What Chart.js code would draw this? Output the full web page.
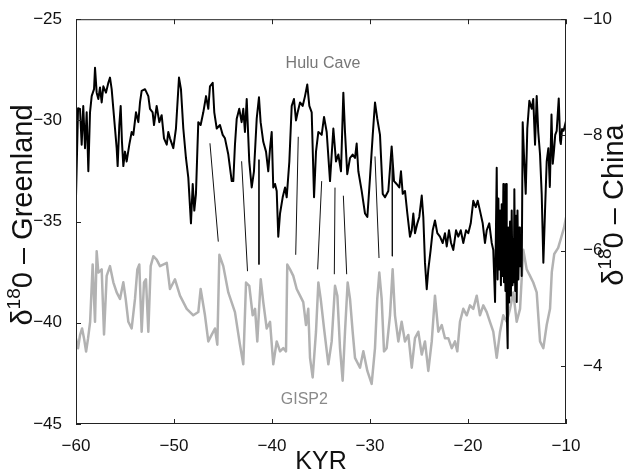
<!DOCTYPE html>
<html>
<head>
<meta charset="utf-8">
<script src="https://cdn.jsdelivr.net/npm/chart.js@4.4.1/dist/chart.umd.min.js"></script>
<style>
  html, body { margin: 0; padding: 0; background: #fff; }
  #wrap { width: 631px; height: 470px; }
</style>
</head>
<body>
<div id="wrap"><canvas id="c"></canvas></div>
<script>
// Hulu Cave speleothem record, [kyr, d18O China] (right axis, reversed)
const hulu = [
  [-60.00,-6.93],[-59.79,-8.46],[-59.59,-8.45],[-59.42,-7.83],[-59.26,-8.50],[-59.08,-7.77],[-58.91,-8.39],
  [-58.74,-7.37],[-58.57,-8.39],[-58.40,-8.67],[-58.16,-8.79],[-58.06,-9.16],[-57.89,-8.73],[-57.72,-8.62],
  [-57.55,-8.82],[-57.38,-8.56],[-57.21,-8.84],[-56.94,-8.73],[-56.70,-8.90],[-56.53,-8.99],[-56.36,-8.79],
  [-56.19,-8.45],[-56.02,-8.11],[-55.85,-7.77],[-55.75,-7.46],[-55.58,-8.17],[-55.44,-8.50],[-55.31,-7.88],
  [-55.17,-7.46],[-55.00,-7.71],[-54.83,-7.54],[-54.56,-7.83],[-54.32,-8.05],[-54.15,-8.00],[-53.88,-8.39],
  [-53.64,-8.22],[-53.47,-8.56],[-53.30,-8.76],[-52.96,-8.79],[-52.62,-8.67],[-52.45,-8.45],[-52.18,-8.39],
  [-52.04,-8.17],[-51.77,-8.50],[-51.50,-8.22],[-51.26,-8.34],[-51.02,-7.94],[-50.74,-7.83],[-50.58,-8.05],
  [-50.41,-7.94],[-50.07,-7.77],[-49.80,-8.11],[-49.49,-8.99],[-49.29,-8.79],[-49.05,-8.11],[-48.78,-7.60],
  [-48.54,-7.26],[-48.27,-6.47],[-48.09,-7.15],[-47.93,-6.69],[-47.76,-6.98],[-47.62,-7.71],[-47.52,-8.22],
  [-47.28,-8.17],[-47.01,-8.39],[-46.73,-8.67],[-46.50,-8.45],[-46.33,-8.84],[-46.05,-8.90],[-45.89,-8.39],
  [-45.64,-8.11],[-45.31,-8.17],[-45.03,-8.00],[-44.80,-7.94],[-44.46,-7.66],[-44.11,-7.20],[-43.95,-7.20],
  [-43.78,-7.83],[-43.60,-8.28],[-43.34,-8.45],[-43.10,-8.22],[-42.93,-8.45],[-42.76,-8.05],[-42.58,-8.62],
  [-42.32,-7.54],[-42.07,-7.09],[-41.84,-7.37],[-41.56,-8.28],[-41.33,-8.65],[-41.16,-8.22],[-40.89,-7.88],
  [-40.61,-7.71],[-40.38,-7.37],[-40.20,-7.77],[-40.03,-8.05],[-39.87,-7.09],[-39.69,-7.15],[-39.52,-7.03],
  [-39.36,-6.24],[-39.18,-6.64],[-38.91,-6.92],[-38.67,-7.09],[-38.50,-6.92],[-38.23,-7.54],[-37.99,-8.50],
  [-37.76,-8.62],[-37.55,-8.25],[-37.38,-8.39],[-37.14,-8.56],[-36.87,-8.50],[-36.63,-8.67],[-36.40,-8.87],
  [-36.19,-8.50],[-35.95,-8.39],[-35.71,-6.92],[-35.51,-7.71],[-35.27,-8.05],[-34.93,-8.00],[-34.69,-8.31],
  [-34.42,-8.05],[-34.08,-7.20],[-33.74,-8.11],[-33.47,-7.54],[-33.23,-7.66],[-32.96,-7.37],[-32.72,-8.73],
  [-32.55,-8.05],[-32.32,-7.32],[-32.04,-7.60],[-31.77,-7.66],[-31.53,-7.60],[-31.36,-7.85],[-31.19,-7.37],
  [-30.85,-7.03],[-30.51,-6.64],[-30.27,-6.58],[-30.00,-7.26],[-29.72,-8.00],[-29.49,-8.56],[-29.26,-8.28],
  [-28.98,-8.00],[-28.70,-6.98],[-28.47,-6.92],[-28.13,-7.03],[-27.79,-7.80],[-27.55,-7.20],[-27.28,-7.15],
  [-27.01,-7.09],[-26.84,-7.37],[-26.66,-6.98],[-26.43,-7.03],[-26.19,-6.64],[-25.92,-6.24],[-25.74,-6.35],
  [-25.58,-6.64],[-25.41,-6.30],[-25.17,-6.47],[-24.97,-6.58],[-24.72,-6.95],[-24.56,-6.58],[-24.39,-5.79],
  [-24.21,-5.33],[-24.05,-5.67],[-23.81,-6.01],[-23.60,-6.35],[-23.37,-6.52],[-23.13,-6.30],[-22.86,-6.24],
  [-22.58,-6.13],[-22.35,-6.30],[-22.17,-6.07],[-21.94,-6.35],[-21.73,-6.13],[-21.50,-6.01],[-21.22,-6.35],
  [-20.99,-6.24],[-20.74,-6.35],[-20.48,-6.13],[-20.20,-6.35],[-19.97,-6.30],[-19.72,-6.47],[-19.46,-6.86],
  [-19.21,-6.75],[-19.01,-6.86],[-18.78,-6.69],[-18.50,-6.47],[-18.27,-6.13],[-18.09,-6.35],[-17.83,-6.47],
  [-17.58,-6.13],[-17.42,-6.01],[-17.24,-5.11],[-17.07,-7.43],[-16.98,-5.50],[-16.90,-6.90],[-16.82,-5.67],
  [-16.73,-6.69],[-16.64,-5.40],[-16.56,-6.80],[-16.48,-5.56],[-16.39,-7.15],[-16.33,-5.45],[-16.25,-6.60],
  [-16.18,-5.30],[-16.12,-7.15],[-16.05,-4.99],[-15.95,-4.31],[-15.90,-6.40],[-15.80,-5.10],[-15.71,-6.50],
  [-15.62,-5.22],[-15.54,-6.69],[-15.46,-5.40],[-15.38,-6.20],[-15.32,-5.45],[-15.27,-7.06],[-15.18,-5.30],
  [-15.10,-6.60],[-15.03,-5.11],[-14.95,-6.69],[-14.86,-5.50],[-14.76,-6.40],[-14.70,-5.73],[-14.60,-6.20],
  [-14.52,-5.56],[-14.42,-8.22],[-14.29,-7.66],[-14.11,-6.98],[-13.95,-8.11],[-13.74,-8.59],[-13.50,-8.45],
  [-13.34,-8.62],[-13.16,-7.83],[-12.99,-8.67],[-12.83,-8.05],[-12.65,-7.66],[-12.48,-6.98],[-12.31,-5.79],
  [-12.14,-6.69],[-11.97,-7.54],[-11.80,-7.77],[-11.65,-7.10],[-11.48,-8.35],[-11.35,-7.50],[-11.23,-7.72],
  [-11.10,-8.00],[-10.95,-8.07],[-10.74,-8.63],[-10.60,-7.90],[-10.53,-7.84],[-10.40,-8.10],[-10.25,-8.07],
  [-10.00,-8.24]
];

// GISP2 ice core, [kyr, d18O Greenland] (left axis)
const gisp2 = [
  [-60.00,-40.77],[-59.79,-41.26],[-59.59,-40.61],[-59.38,-40.28],[-59.18,-40.77],[-58.97,-41.42],[-58.77,-40.77],
  [-58.56,-39.96],[-58.30,-37.12],[-58.06,-39.95],[-57.89,-36.47],[-57.72,-37.52],[-57.38,-37.36],[-57.14,-40.58],
  [-56.87,-37.68],[-56.53,-37.20],[-56.19,-38.00],[-55.85,-38.50],[-55.51,-38.82],[-55.17,-38.00],[-54.93,-38.82],
  [-54.66,-39.95],[-54.32,-40.28],[-53.98,-38.82],[-53.74,-37.36],[-53.54,-37.12],[-53.30,-40.44],[-53.06,-38.00],
  [-52.86,-37.85],[-52.62,-40.44],[-52.38,-37.20],[-52.11,-36.71],[-51.77,-36.88],[-51.43,-37.20],[-50.74,-37.04],
  [-50.41,-38.33],[-49.90,-37.85],[-49.39,-38.66],[-48.70,-39.31],[-48.03,-39.63],[-47.52,-39.47],[-47.28,-38.33],
  [-46.84,-39.63],[-46.50,-40.92],[-46.16,-40.60],[-45.82,-40.28],[-45.58,-41.08],[-45.37,-36.64],[-44.97,-37.20],
  [-44.46,-38.50],[-43.78,-39.47],[-43.27,-41.08],[-42.93,-42.05],[-42.65,-38.01],[-42.32,-38.17],[-41.97,-39.63],
  [-41.73,-39.31],[-41.50,-40.92],[-41.15,-37.85],[-40.89,-38.98],[-40.54,-40.28],[-40.20,-39.95],[-39.87,-42.05],
  [-39.52,-40.92],[-39.18,-41.41],[-38.85,-41.25],[-38.57,-41.41],[-38.44,-37.12],[-38.16,-37.36],[-37.83,-37.68],
  [-37.48,-38.33],[-37.14,-38.66],[-36.81,-38.98],[-36.53,-40.11],[-36.30,-39.31],[-36.12,-41.73],[-35.85,-42.70],
  [-35.51,-40.44],[-35.27,-38.01],[-35.03,-38.82],[-34.69,-40.28],[-34.25,-42.05],[-33.91,-40.92],[-33.57,-38.17],
  [-33.33,-38.66],[-33.06,-41.25],[-32.79,-42.86],[-32.55,-40.44],[-32.28,-38.01],[-32.04,-38.82],[-31.77,-40.44],
  [-31.53,-41.73],[-31.02,-42.22],[-30.68,-41.41],[-30.27,-42.38],[-29.83,-43.02],[-29.49,-41.25],[-29.26,-38.82],
  [-29.05,-37.52],[-28.81,-38.82],[-28.57,-41.41],[-28.30,-41.25],[-27.96,-39.63],[-27.69,-37.36],[-27.45,-39.63],
  [-27.11,-40.92],[-26.77,-39.95],[-26.43,-40.92],[-26.09,-40.60],[-25.74,-42.22],[-25.41,-40.76],[-25.07,-40.44],
  [-24.72,-41.57],[-24.39,-40.92],[-24.05,-42.38],[-23.70,-40.92],[-23.37,-38.66],[-23.03,-40.44],[-22.68,-40.11],
  [-22.35,-40.76],[-22.01,-40.76],[-21.66,-41.25],[-21.33,-40.92],[-21.09,-41.41],[-20.82,-39.95],[-20.48,-39.31],
  [-20.13,-39.63],[-19.80,-39.14],[-19.46,-39.31],[-19.11,-38.66],[-18.78,-39.63],[-18.44,-39.14],[-18.09,-39.47],
  [-17.76,-39.95],[-17.42,-40.44],[-17.07,-41.73],[-16.73,-40.44],[-16.40,-39.63],[-16.05,-39.95],[-15.71,-39.31],
  [-15.38,-38.50],[-15.03,-39.95],[-14.69,-39.31],[-14.36,-36.39],[-14.01,-37.36],[-13.67,-37.68],[-13.34,-38.01],
  [-12.99,-38.50],[-12.65,-40.92],[-12.31,-41.25],[-11.97,-40.11],[-11.63,-39.31],[-11.45,-37.50],[-11.20,-36.60],
  [-10.80,-36.30],[-10.50,-35.80],[-10.20,-35.30],[-10.00,-34.80]
];

// tie lines between the two records: [kyr top, d18O top, kyr bottom, d18O bottom] (left axis)
const ties = [
  [-46.33,-31.13,-45.48,-35.99],
  [-43.10,-32.02,-42.50,-37.45],
  [-41.33,-31.94,-41.33,-37.12],
  [-37.32,-30.81,-37.58,-36.64],
  [-34.93,-33.00,-35.34,-37.36],
  [-33.57,-33.32,-33.64,-37.60],
  [-32.72,-33.72,-32.38,-37.60],
  [-29.49,-31.78,-29.08,-36.80],
  [-27.74,-31.80,-27.72,-36.71]
];

const xTicks = [-60, -50, -40, -30, -20, -10];
const leftTicks = [-25, -30, -35, -40, -45];
const rightTicks = [-10, -8, -6, -4];

const FONT = '"Liberation Sans", Arial, Helvetica, sans-serif';
const minus = v => String(v).replace('-', '\u2212');

let tiePts = [];
ties.forEach(t => {
  tiePts.push({x: t[0], y: t[1]}, {x: t[2], y: t[3]}, {x: t[2], y: null});
});

function supTitle(ctx, cx, cy, size, pre, sup, post) {
  ctx.save();
  ctx.translate(cx, cy);
  ctx.rotate(-Math.PI / 2);
  const big = size + 'px ' + FONT;
  const small = Math.round(size * 0.64) + 'px ' + FONT;
  ctx.font = big;
  const w1 = ctx.measureText(pre).width, w3 = ctx.measureText(post).width;
  ctx.font = small;
  const w2 = ctx.measureText(sup).width;
  let x = -(w1 + w2 + w3) / 2;
  const base = size * 0.36;
  ctx.fillStyle = '#111';
  ctx.textBaseline = 'alphabetic';
  ctx.textAlign = 'left';
  ctx.font = big; ctx.fillText(pre, x, base); x += w1;
  ctx.font = small; ctx.fillText(sup, x, base - size * 0.42); x += w2;
  ctx.font = big; ctx.fillText(post, x, base);
  ctx.restore();
}

const framePlugin = {
  id: 'frame',
  afterDraw(chart) {
    const {ctx, chartArea: a, scales} = chart;
    ctx.save();
    ctx.strokeStyle = '#222';
    ctx.lineWidth = 1;
    ctx.strokeRect(a.left + 0.5, a.top + 0.5, a.right - a.left - 1, a.bottom - a.top - 1);
    const tl = 5;
    ctx.beginPath();
    xTicks.forEach(v => {
      const p = Math.round(scales.x.getPixelForValue(v)) + 0.5;
      ctx.moveTo(p, a.bottom); ctx.lineTo(p, a.bottom - tl);
      ctx.moveTo(p, a.top); ctx.lineTo(p, a.top + tl);
    });
    leftTicks.forEach(v => {
      const p = Math.round(scales.y.getPixelForValue(v)) + 0.5;
      ctx.moveTo(a.left, p); ctx.lineTo(a.left + tl, p);
    });
    rightTicks.forEach(v => {
      const p = Math.round(scales.y2.getPixelForValue(v)) + 0.5;
      ctx.moveTo(a.right, p); ctx.lineTo(a.right - tl, p);
    });
    ctx.stroke();

    // series names
    ctx.font = '16px ' + FONT;
    ctx.textAlign = 'center';
    ctx.textBaseline = 'middle';
    ctx.fillStyle = '#777';
    ctx.fillText('Hulu Cave', scales.x.getPixelForValue(-34.8), scales.y.getPixelForValue(-27.2));
    ctx.fillStyle = '#8a8a8a';
    ctx.fillText('GISP2', scales.x.getPixelForValue(-36.7), scales.y.getPixelForValue(-43.8));

    // axis titles
    ctx.fillStyle = '#111';
    ctx.font = '25px ' + FONT;
    ctx.textBaseline = 'alphabetic';
    ctx.fillText('KYR', (a.left + a.right) / 2, 469);
    supTitle(ctx, 22, 215, 29, '\u03b4', '18', '0 \u2013 Greenland');
    supTitle(ctx, 613, 205, 29, '\u03b4', '18', '0 \u2013 China');
    ctx.restore();
  }
};

new Chart(document.getElementById('c'), {
  type: 'line',
  data: {
    datasets: [
      {
        label: 'ties',
        data: tiePts,
        yAxisID: 'y',
        borderColor: '#111',
        borderWidth: 1,
        pointRadius: 0,
        spanGaps: false,
        order: 0
      },
      {
        label: 'Hulu Cave',
        data: hulu.map(p => ({x: p[0], y: p[1]})),
        yAxisID: 'y2',
        borderColor: '#000',
        borderWidth: 2,
        pointRadius: 0,
        order: 1
      },
      {
        label: 'GISP2',
        data: gisp2.map(p => ({x: p[0], y: p[1]})),
        yAxisID: 'y',
        borderColor: '#b2b2b2',
        borderWidth: 2.5,
        pointRadius: 0,
        order: 2
      }
    ]
  },
  options: {
    responsive: true,
    maintainAspectRatio: false,
    animation: false,
    layout: { padding: { top: 12, left: 0, right: 0, bottom: 0 } },
    plugins: { legend: { display: false }, tooltip: { enabled: false } },
    elements: { line: { tension: 0, borderJoinStyle: 'round' } },
    scales: {
      x: {
        type: 'linear', min: -60, max: -10,
        grid: { display: false }, border: { display: false },
        afterBuildTicks: s => { s.ticks = xTicks.map(v => ({value: v})); },
        afterFit: s => { s.height = 46; },
        ticks: { padding: 4, color: '#111', font: { family: FONT, size: 17 }, callback: minus, maxRotation: 0 }
      },
      y: {
        position: 'left', min: -45, max: -25,
        grid: { display: false }, border: { display: false },
        afterBuildTicks: s => { s.ticks = leftTicks.map(v => ({value: v})); },
        afterFit: s => { s.width = 76; },
        ticks: { padding: 6, color: '#111', font: { family: FONT, size: 17 }, callback: minus }
      },
      y2: {
        position: 'right', min: -10, max: -3, reverse: true,
        grid: { display: false }, border: { display: false },
        afterBuildTicks: s => { s.ticks = rightTicks.map(v => ({value: v})); },
        afterFit: s => { s.width = 65; },
        ticks: { padding: 9, color: '#111', font: { family: FONT, size: 17 }, callback: minus }
      }
    }
  },
  plugins: [framePlugin]
});
</script>
</body>
</html>
